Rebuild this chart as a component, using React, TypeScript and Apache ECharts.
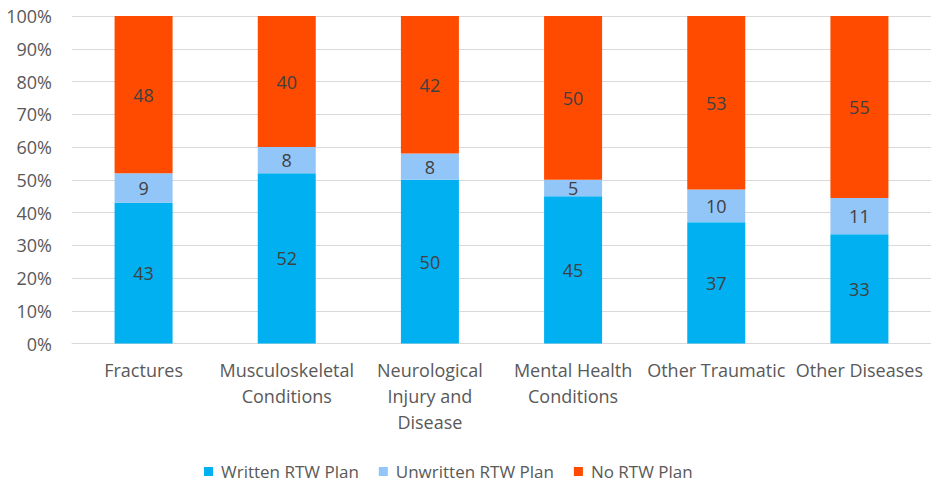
import React, { useEffect, useRef } from "react";
import * as echarts from "echarts";

const categories = [
  "Fractures",
  "Musculoskeletal\nConditions",
  "Neurological\nInjury and\nDisease",
  "Mental Health\nConditions",
  "Other Traumatic",
  "Other Diseases",
];
const writtenPlan = [43, 52, 50, 45, 37, 33];
const unwrittenPlan = [9, 8, 8, 5, 10, 11];
const noPlan = [48, 40, 42, 50, 53, 55];
const yTicks = [0, 10, 20, 30, 40, 50, 60, 70, 80, 90, 100];

const FONT = "'Open Sans', 'Noto Sans', sans-serif";
const TEXT = "#595959";

export default function App() {
  const ref = useRef<HTMLDivElement>(null);

  useEffect(() => {
    if (!ref.current) return;
    const chart = echarts.init(ref.current, undefined, { renderer: "svg" });

    // 100% stacked: each column's shares are its values over the column total
    const totals = categories.map((_, i) => writtenPlan[i] + unwrittenPlan[i] + noPlan[i]);
    const share = (arr: number[]) =>
      arr.map((v, i) => ({ value: (v / totals[i]) * 100, raw: v }));

    const mk = (name: string, arr: number[], color: string) => ({
      name,
      type: "bar",
      stack: "plan",
      barWidth: 58,
      data: share(arr),
      itemStyle: { color },
      label: {
        show: true,
        position: "inside",
        color: "#404040",
        fontFamily: FONT,
        fontSize: 18,
        formatter: (p: any) => String(p.data.raw),
      },
    });

    chart.setOption({
      animation: false,
      backgroundColor: "#ffffff",
      textStyle: { fontFamily: FONT },
      grid: { left: 72, top: 16, width: 862, height: 327.5, containLabel: false },
      legend: {
        top: 458,
        left: 199,
        itemWidth: 9,
        itemHeight: 9,
        itemGap: 20,
        icon: "rect",
        textStyle: { color: TEXT, fontFamily: FONT, fontSize: 17, padding: [0, 0, 0, 3] },
        data: ["Written RTW Plan", "Unwritten RTW Plan", "No RTW Plan"],
      },
      xAxis: {
        type: "category",
        data: categories,
        axisLine: { show: true, lineStyle: { color: "#d9d9d9", width: 1 } },
        axisTick: { show: false },
        axisLabel: {
          interval: 0,
          color: TEXT,
          fontFamily: FONT,
          fontSize: 18,
          lineHeight: 26,
          margin: 13,
          align: "center",
        },
      },
      yAxis: {
        type: "value",
        min: yTicks[0],
        max: yTicks[yTicks.length - 1],
        interval: 10,
        axisLine: { show: false },
        axisTick: { show: false },
        splitLine: { lineStyle: { color: "#d9d9d9", width: 1 } },
        axisLabel: {
          color: TEXT,
          fontFamily: FONT,
          fontSize: 18,
          margin: 20,
          formatter: (v: number) => `${v}%`,
        },
      },
      series: [
        mk("Written RTW Plan", writtenPlan, "#00B0F0"),
        mk("Unwritten RTW Plan", unwrittenPlan, "#92C5F8"),
        mk("No RTW Plan", noPlan, "#FF4B00"),
      ],
    });

    return () => chart.dispose();
  }, []);

  return <div ref={ref} style={{ width: 931, height: 482, position: "absolute", left: 0, top: 0 }} />;
}
